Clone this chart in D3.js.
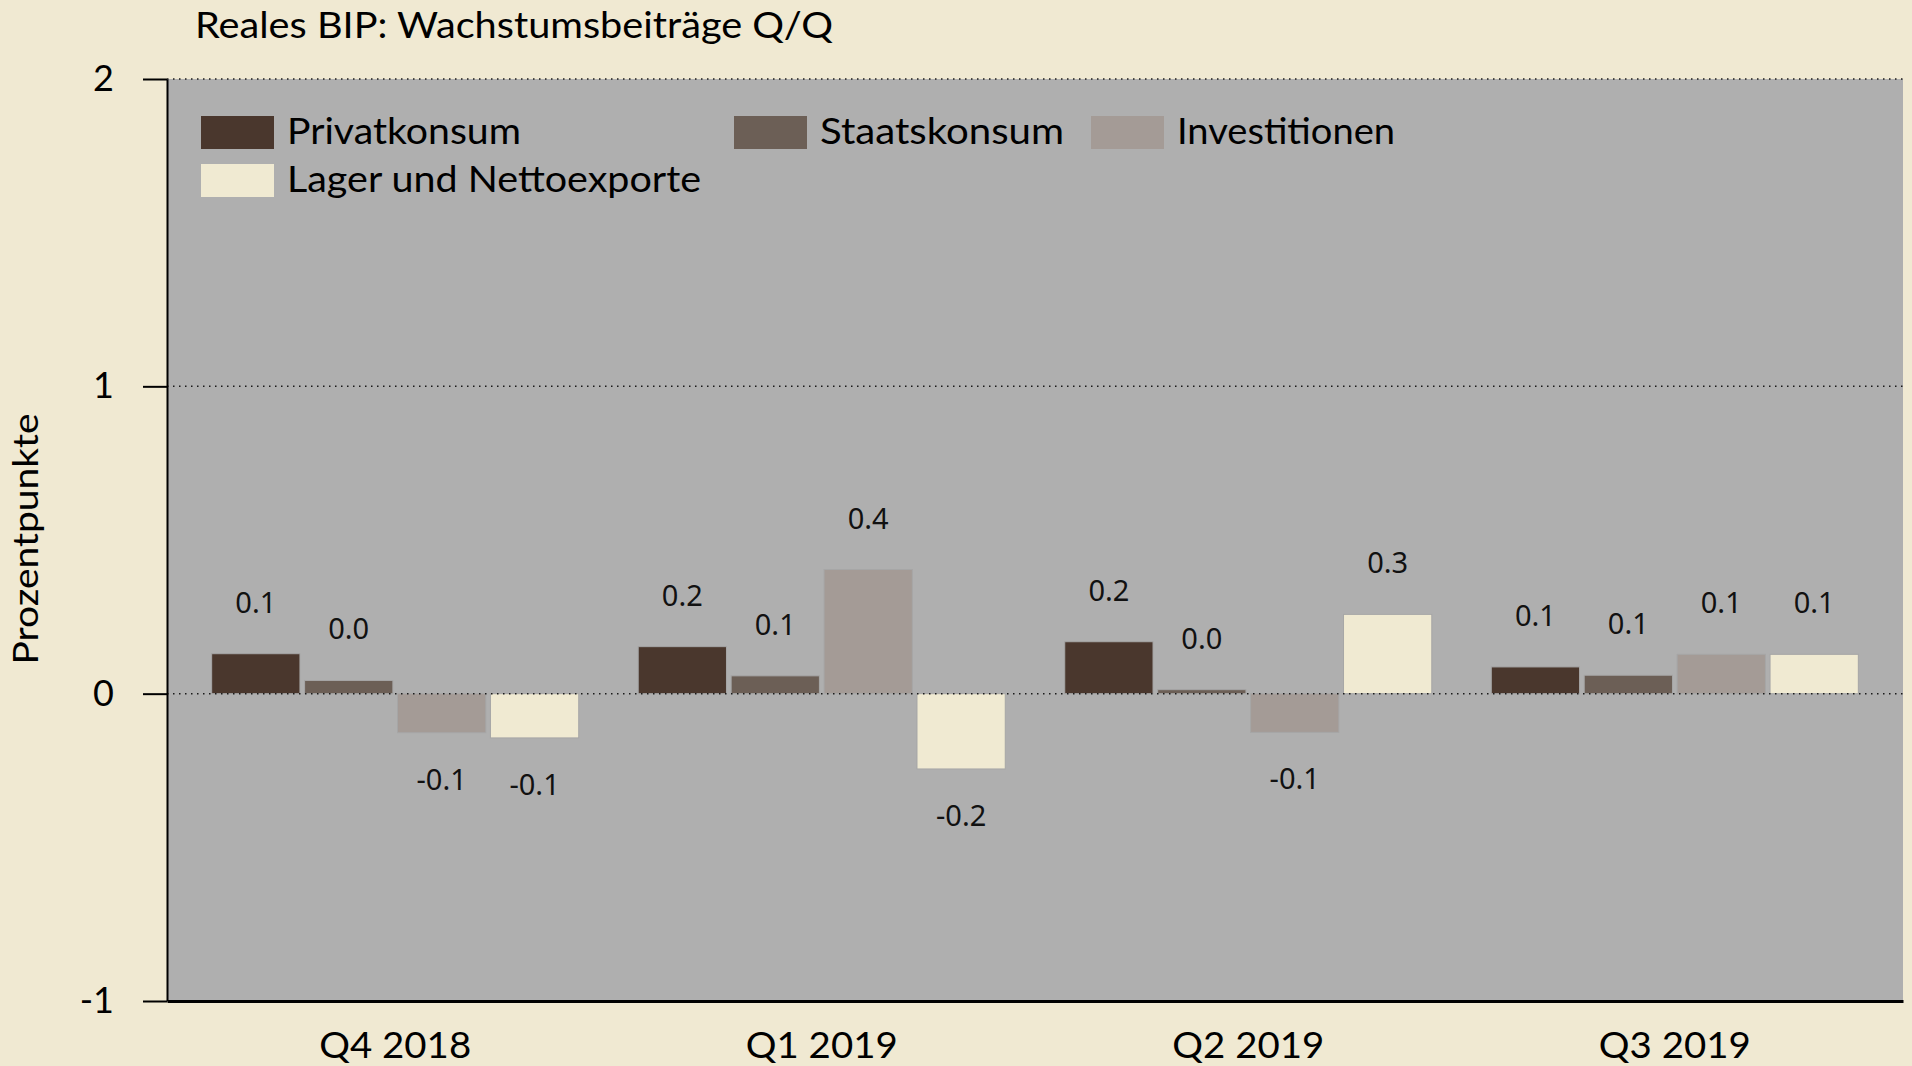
<!DOCTYPE html>
<html>
<head>
<meta charset="utf-8">
<script src="https://cdn.jsdelivr.net/npm/d3@7/dist/d3.min.js"></script>
<style>
  html, body { margin: 0; padding: 0; background: #f0e9d2; }
  svg { display: block; }
</style>
</head>
<body>
<svg id="chart" width="1912" height="1066"></svg>
<script>
// ---- data ----
const categories = ["Q4 2018", "Q1 2019", "Q2 2019", "Q3 2019"];
const seriesNames = ["Privatkonsum", "Staatskonsum", "Investitionen", "Lager und Nettoexporte"];
const privatkonsum = [0.13, 0.153, 0.169, 0.087];
const staatskonsum = [0.043, 0.058, 0.013, 0.06];
const investitionen = [-0.127, 0.404, -0.126, 0.128];
const lagerNetto = [-0.144, -0.245, 0.258, 0.128];
const yTicks = [-1, 0, 1, 2];
const gridValues = [0, 1, 2];
const titleText = "Reales BIP: Wachstumsbeiträge Q/Q";
const yTitle = "Prozentpunkte";

// ---- styles ----
const colors = ["#4a372d", "#6c5f56", "#a49b96", "#f0ead2"];
const labelFont = "'Noto Sans', 'Open Sans', sans-serif";
const mainFont = "Lato, 'Noto Sans', sans-serif";
const legendTextWidths = [234, 244, 218, 414];

const seriesValues = [privatkonsum, staatskonsum, investitionen, lagerNetto];
const rows = [];
categories.forEach((c, i) => {
  seriesNames.forEach((s, j) => rows.push({cat: c, series: s, idx: j, value: seriesValues[j][i]}));
});

const svg = d3.select("#chart");
const W = 1912, H = 1066;
const plot = {left: 167, right: 1903, top: 79, bottom: 1001};

svg.append("rect").attr("width", W).attr("height", H).attr("fill", "#f0e9d2");

const y = d3.scaleLinear().domain([-1, 2]).range([plot.bottom, plot.top]);
const x0 = d3.scaleBand().domain(categories).range([plot.left, plot.right]).paddingInner(0).paddingOuter(0.035);
const x1 = d3.scaleBand().domain(seriesNames).range([0, x0.bandwidth()]).paddingInner(0.05).paddingOuter(0.32);

// plot background
svg.append("rect")
  .attr("x", plot.left).attr("y", plot.top)
  .attr("width", plot.right - plot.left).attr("height", plot.bottom - plot.top)
  .attr("fill", "#afafaf");

// bars
svg.append("g").selectAll("rect").data(rows).join("rect")
  .attr("x", d => x0(d.cat) + x1(d.series))
  .attr("width", x1.bandwidth())
  .attr("y", d => Math.min(y(d.value), y(0)))
  .attr("height", d => Math.abs(y(d.value) - y(0)))
  .attr("fill", (d) => colors[d.idx])
  .attr("stroke", "#a6a6a6")
  .attr("stroke-width", 1);

// grid lines (dotted) on top
svg.append("g").selectAll("line").data(gridValues).join("line")
  .attr("x1", plot.left).attr("x2", plot.right)
  .attr("y1", d => y(d)).attr("y2", d => y(d))
  .attr("stroke", "#1a1a1a")
  .attr("stroke-width", 1.5)
  .attr("stroke-dasharray", "1.5,4.5");

// value labels
const fmt = v => d3.format(".1f")(v).replace("\u2212", "-");
svg.append("g").selectAll("text").data(rows).join("text")
  .attr("x", d => x0(d.cat) + x1(d.series) + x1.bandwidth() / 2)
  .attr("y", d => d.value >= 0 ? y(d.value) - 41 : y(d.value) + 57)
  .attr("text-anchor", "middle")
  .attr("font-family", labelFont)
  .attr("font-size", 29)
  .attr("fill", "#111")
  .text(d => fmt(d.value));

// y axis
const yAxis = svg.append("g")
  .attr("transform", `translate(${plot.left},0)`)
  .call(d3.axisLeft(y).tickValues(yTicks).tickFormat(d => String(d)).tickSize(24).tickSizeOuter(0).tickPadding(29));
yAxis.select(".domain").attr("stroke", "#000").attr("stroke-width", 2);
yAxis.selectAll(".tick line").attr("stroke", "#000").attr("stroke-width", 2);
yAxis.selectAll(".tick text")
  .attr("font-family", mainFont).attr("font-size", 36).attr("fill", "#000");

// x axis
const xAxis = svg.append("g")
  .attr("transform", `translate(0,${plot.bottom})`)
  .call(d3.axisBottom(x0).tickSize(0).tickSizeOuter(0).tickPadding(31));
xAxis.select(".domain").attr("stroke", "#000").attr("stroke-width", 3);
xAxis.selectAll(".tick text")
  .attr("font-family", mainFont).attr("font-size", 37).attr("fill", "#000")
  .attr("textLength", 152).attr("lengthAdjust", "spacingAndGlyphs");

// y title
svg.append("text")
  .attr("transform", "translate(38,539) rotate(-90)")
  .attr("text-anchor", "middle")
  .attr("font-family", mainFont)
  .attr("font-size", 35)
  .attr("fill", "#000")
  .attr("textLength", 251).attr("lengthAdjust", "spacingAndGlyphs")
  .text(yTitle);

// title
svg.append("text")
  .attr("x", 195).attr("y", 38)
  .attr("font-family", mainFont)
  .attr("font-size", 36)
  .attr("fill", "#000")
  .attr("textLength", 638).attr("lengthAdjust", "spacingAndGlyphs")
  .text(titleText);

// legend
const legendPos = [
  {sx: 201, ty: 116},
  {sx: 734, ty: 116},
  {sx: 1091, ty: 116},
  {sx: 201, ty: 164}
];
const lg = svg.append("g").selectAll("g").data(seriesNames).join("g")
  .attr("transform", (d, i) => `translate(${legendPos[i].sx},${legendPos[i].ty})`);
lg.append("rect").attr("width", 73).attr("height", 33)
  .attr("fill", (d, i) => colors[i]);
lg.append("text")
  .attr("x", 86).attr("y", 28)
  .attr("font-family", mainFont)
  .attr("font-size", 37)
  .attr("fill", "#000")
  .attr("textLength", (d, i) => legendTextWidths[i]).attr("lengthAdjust", "spacingAndGlyphs")
  .text(d => d);
</script>
</body>
</html>
